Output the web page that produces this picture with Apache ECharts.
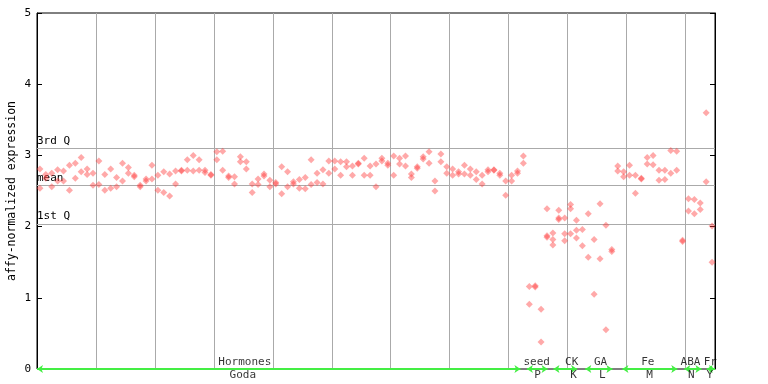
<!DOCTYPE html>
<html><head><meta charset="utf-8">
<script src="https://cdn.jsdelivr.net/npm/echarts@6/dist/echarts.min.js"></script>
<style>html,body{margin:0;padding:0;background:#fff}#c{width:768px;height:384px}</style>
</head><body><div id="c"></div>
<script>
// replicate values per sample (sample i is drawn at i + 0.5)
const rep1 = [2.81,2.73,2.75,2.80,2.78,2.86,2.89,2.97,2.81,2.75,
2.92,2.73,2.81,2.69,2.89,2.83,2.72,2.58,2.67,2.86,
2.72,2.77,2.74,2.78,2.79,2.94,3.00,2.94,2.79,2.73,
3.05,3.06,2.71,2.70,2.98,2.91,2.60,2.67,2.74,2.65,
2.62,2.84,2.77,2.63,2.66,2.69,2.94,2.75,2.80,2.92,
2.92,2.91,2.91,2.85,2.89,2.96,2.85,2.88,2.96,2.89,
2.99,2.96,2.99,2.74,2.84,2.98,3.05,2.64,3.02,2.84,
2.81,2.77,2.86,2.81,2.77,2.72,2.80,2.80,2.75,2.64,
2.72,2.78,2.99,1.16,1.17,0.84,2.25,1.91,2.23,2.12,
2.31,2.09,1.96,2.18,1.82,2.32,2.02,1.68,2.85,2.77,
2.86,2.72,2.68,2.97,3.00,2.79,2.79,3.07,3.06,1.81,
2.39,2.38,2.33,3.60,2.01];
const rep2 = [2.54,2.68,2.56,2.64,2.64,2.51,2.68,2.77,2.73,2.58,
2.59,2.51,2.54,2.56,2.64,2.75,2.70,2.56,2.64,2.67,
2.51,2.48,2.43,2.60,2.78,2.79,2.78,2.79,2.76,2.72,
2.94,2.79,2.69,2.60,2.91,2.81,2.48,2.59,2.71,2.56,
2.60,2.46,2.56,2.60,2.54,2.53,2.59,2.62,2.60,2.75,
2.81,2.72,2.84,2.72,2.88,2.72,2.72,2.56,2.92,2.86,
2.72,2.88,2.85,2.69,2.82,2.95,2.89,2.50,2.91,2.75,
2.72,2.74,2.74,2.72,2.66,2.60,2.77,2.79,2.72,2.44,
2.64,2.75,2.89,0.91,1.15,0.38,1.87,1.82,2.12,1.90,
2.25,1.95,1.73,1.57,1.05,1.55,0.55,1.65,2.78,2.70,
2.72,2.47,2.67,2.88,2.87,2.65,2.66,2.75,2.79,1.79,
2.22,2.18,2.24,2.63,1.50];
const rep3Samples = [86, 87, 88, 89, 90, 91];
const rep3Values  = [1.85, 1.74, 2.10, 1.80, 1.90, 1.84];

const quartileNames  = ['3rd Q', 'mean', '1st Q'];
const quartileValues = [3.10, 2.58, 2.035];

const groupNames   = ['Hormones', 'seed', 'CK', 'GA', 'Fe', 'ABA', 'Fr'];
const groupStart   = [0, 83.1, 87.6, 93, 99.3, 109.8, 113.6];
const groupEnd     = [82, 86.6, 91.6, 97.6, 108.6, 112.7, 115];
const groupLabelAt = [35.25, 84.75, 90.7, 95.6, 103.6, 110.85, 114.2];
const subNames     = ['Goda', 'P', 'K', 'L', 'M', 'N', 'Y'];
const subLabelAt   = [34.9, 84.9, 91, 95.9, 103.9, 111, 114.1];
const sampleCount  = 115;

const MONO = 'DejaVu Sans Mono';
const points = [];
rep1.forEach((v, i) => { if (v != null) points.push([i + 0.5, v]); });
rep2.forEach((v, i) => { if (v != null) points.push([i + 0.5, v]); });
rep3Samples.forEach((s, k) => points.push([s + 0.5, rep3Values[k]]));

const chart = echarts.init(document.getElementById('c'), null, {renderer: 'canvas'});
chart.setOption({
  animation: false,
  backgroundColor: '#fff',
  grid: {left: 37, right: 53, top: 13, bottom: 15, show: true, borderColor: '#000', borderWidth: 1,
    backgroundColor: 'transparent', containLabel: false, outerBoundsMode: 'none'},
  xAxis: {
    type: 'value', min: 0, max: sampleCount, interval: 10,
    axisLine: {show: false}, axisTick: {show: false}, axisLabel: {show: false},
    splitLine: {show: true, lineStyle: {color: '#aaaaaa', width: 1}}
  },
  yAxis: [{
    type: 'value', min: 0, max: 5, interval: 1, position: 'left',
    name: 'affy-normalized expression', nameLocation: 'middle', nameGap: 19, nameMoveOverlap: false,
    nameTextStyle: {fontFamily: MONO, fontSize: 11.5, color: '#000'},
    axisLine: {show: true, lineStyle: {color: '#000', width: 1}},
    axisTick: {show: true, inside: true, length: 5, lineStyle: {color: '#000'}},
    axisLabel: {fontFamily: MONO, fontSize: 11, color: '#000', margin: 6},
    splitLine: {show: false}
  }, {
    type: 'value', min: 0, max: 5, interval: 1, position: 'right',
    axisLine: {show: true, lineStyle: {color: '#000', width: 1}},
    axisTick: {show: true, inside: true, length: 5, lineStyle: {color: '#000'}},
    axisLabel: {show: false}, splitLine: {show: false}
  }],
  series: [{
    type: 'scatter', z: 5,
    symbol: 'diamond', symbolSize: 7,
    itemStyle: {color: 'rgba(255,60,60,0.55)'},
    data: points,
    markLine: {
      silent: true, symbol: 'none', z: 2,
      lineStyle: {color: '#aaaaaa', width: 1, type: 'solid'},
      label: {show: true, position: 'insideStartTop', distance: [0, 2], color: '#000', fontFamily: MONO, fontSize: 11,
        formatter: p => p.name},
      data: quartileNames.map((n, i) => ({name: n, yAxis: quartileValues[i]}))
    }
  }, {
    type: 'scatter', z: 6, symbolSize: 0, silent: true,
    data: groupNames.map((n, i) => ({name: n, value: [groupLabelAt[i], 0]})),
    label: {show: true, position: 'top', distance: 1, color: '#000', fontFamily: MONO, fontSize: 11, formatter: p => p.name},
    markLine: {
      silent: true, symbol: ['arrow', 'arrow'], symbolSize: [6, 6], z: 4,
      lineStyle: {color: '#44ee44', width: 2, type: 'solid'},
      label: {show: false},
      data: groupNames.map((n, i) => [{coord: [groupStart[i], 0]}, {coord: [groupEnd[i], 0]}])
    }
  }, {
    type: 'scatter', z: 6, symbolSize: 0, silent: true,
    data: subNames.map((n, i) => ({name: n, value: [subLabelAt[i], 0]})),
    label: {show: true, position: 'bottom', distance: 1, color: '#000', fontFamily: MONO, fontSize: 11, formatter: p => p.name}
  }]
});
</script>
</body></html>
